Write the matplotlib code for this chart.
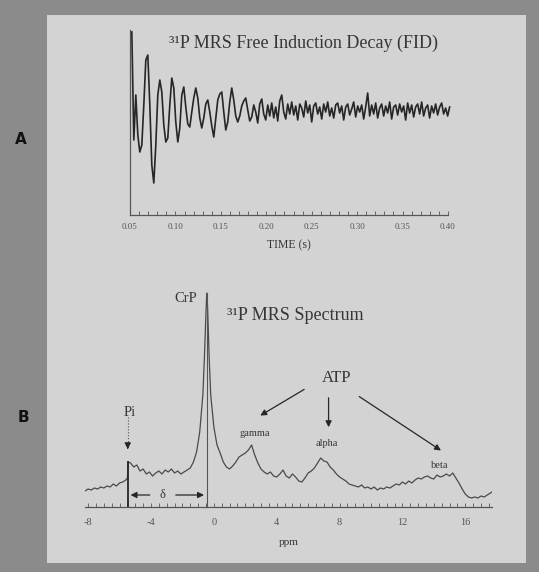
import numpy as np
import matplotlib as mpl
import matplotlib.pyplot as plt
from matplotlib.patches import Rectangle

mpl.use('Agg')
mpl.rcParams['font.family'] = ['Liberation Serif', 'DejaVu Serif']

# ---- A: FID, samples every 0.0022 s starting at 0.052 s ----
fid_t0 = 0.052
fid_dt = 0.0022
fid_amp = [
    78, -30, 15, -25, -42, -35, 5, 50, 55, 5, -55, -73, -35, 15, 30, 18, -15, -32, -28, 5,
    32, 22, -12, -32, -18, 15, 23, 3, -14, -17, -2, 12, 22, 12, -8, -18, -8, 6, 10, -2,
    -16, -27, -8, 10, 16, 18, -2, -20, -12, 8, 22, 10, -6, -12, -6, 4, 9, 12, 0, -11,
    -7, 5, -2, -13, 6, 11, -4, -10, 5, -6, 7, -8, 3, -11, 9, 15, -2, -9, 6, -4,
    8, -5, 4, -10, 6, 2, -7, 9, -3, 5, -12, 4, 7, -4, 3, -9, 6, -2, 8, -6,
    2, -8, 5, 7, -3, 4, -10, 3, 6, -5, 1, 8, -7, 4, -2, 5, -9, 3, 17, -6,
    5, -4, 7, -8, 2, 6, -6, 4, -3, 8, -9, 3, 5, -5, 6, -2, 4, -10, 7, -3,
    5, -7, 3, 6, -4, 8, -6, 2, 5, -8, 4, -3, 6, -5, 3, 7, -4, 2, -6, 3,
]
fid_ticks = [0.05, 0.10, 0.15, 0.20, 0.25, 0.30, 0.35, 0.40]
fid_ticklabels = ['0.05', '0.10', '0.15', '0.20', '0.25', '0.30', '0.35', '0.40']

# ---- B: spectrum ----
spec_ppm = [
    -8.2, -8.0, -7.8, -7.6, -7.4, -7.2, -7.0, -6.8, -6.6, -6.4, -6.2, -6.0, -5.8, -5.6, -5.5,
    -5.45, -5.3, -5.1, -4.9, -4.7, -4.5, -4.3, -4.1, -3.9, -3.7, -3.5, -3.3, -3.1, -2.9, -2.7,
    -2.5, -2.3, -2.1, -1.9, -1.7, -1.5, -1.3, -1.1, -0.9, -0.7, -0.6, -0.5, -0.45, -0.4, -0.3,
    -0.2, 0.0, 0.2, 0.4, 0.6, 0.8, 1.0, 1.2, 1.4, 1.6, 1.8, 2.0, 2.2, 2.4, 2.6,
    2.8, 3.0, 3.2, 3.4, 3.6, 3.8, 4.0, 4.2, 4.4, 4.6, 4.8, 5.0, 5.2, 5.4, 5.6,
    5.8, 6.0, 6.2, 6.4, 6.6, 6.8, 7.0, 7.2, 7.4, 7.6, 7.8, 8.0, 8.2, 8.4, 8.6,
    8.8, 9.0, 9.2, 9.4, 9.6, 9.8, 10.0, 10.2, 10.4, 10.6, 10.8, 11.0, 11.2, 11.4, 11.6,
    11.8, 12.0, 12.2, 12.4, 12.6, 12.8, 13.0, 13.2, 13.4, 13.6, 13.8, 14.0, 14.2, 14.4, 14.6,
    14.8, 15.0, 15.2, 15.4, 15.6, 15.8, 16.0, 16.2, 16.4, 16.6, 16.8, 17.0, 17.2, 17.4, 17.7,
]
spec_amp = [
    16, 18, 17, 19, 18, 20, 19, 21, 20, 23, 21, 24, 25, 27, 29,
    45, 44, 40, 42, 36, 38, 33, 35, 31, 34, 36, 33, 37, 35, 38,
    34, 36, 33, 35, 37, 39, 45, 55, 75, 112, 150, 195, 214, 200, 150,
    112, 80, 62, 54, 45, 40, 38, 41, 45, 50, 52, 54, 57, 62, 52,
    44, 38, 35, 33, 35, 31, 30, 33, 37, 31, 29, 33, 30, 26, 25,
    29, 34, 36, 39, 44, 49, 46, 45, 40, 37, 33, 30, 28, 26, 23,
    22, 21, 20, 22, 19, 20, 18, 20, 17, 19, 18, 20, 19, 21, 23,
    22, 25, 23, 26, 24, 27, 29, 28, 30, 31, 29, 28, 32, 30, 31,
    33, 31, 34, 29, 24, 18, 13, 10, 9, 10, 9, 11, 10, 12, 15,
]
spec_ticks = [-8, -4, 0, 4, 8, 12, 16]
spec_ticklabels = ['-8', '-4', '0', '4', '8', '12', '16']

pi_ppm, crp_ppm = -5.48, -0.45

W, H = 539, 572
fig = plt.figure(figsize=(W / 100, H / 100), dpi=100, facecolor='#8b8b8b')
fig.patches.append(Rectangle((47 / W, 1 - 563 / H), (526 - 47) / W, (563 - 15) / H,
                             transform=fig.transFigure, fc='#d3d3d3', ec='none', zorder=-5))

ink = '#262626'
txt = '#363636'

# ---------------- panel A ----------------
axA = fig.add_axes([130 / W, 1 - 215 / H, 318 / W, 185 / H])
axA.set_facecolor('none')
t = fid_t0 + fid_dt * np.arange(len(fid_amp))
axA.plot(t, fid_amp, color=ink, lw=1.2, clip_on=False)
axA.set_xlim(0.05, 0.40)
axA.set_ylim(-105, 80)
for s in ['top', 'right']:
    axA.spines[s].set_visible(False)
axA.spines['left'].set_color('#555555')
axA.spines['bottom'].set_color('#555555')
axA.spines['left'].set_linewidth(0.9)
axA.spines['bottom'].set_linewidth(0.9)
axA.set_yticks([])
axA.set_xticks(fid_ticks)
axA.set_xticklabels(fid_ticklabels, fontsize=6.5, color='#555555')
axA.set_xticks(np.arange(0.05, 0.401, 0.01), minor=True)
axA.tick_params(axis='x', which='both', direction='in', length=3, width=0.6,
                color='#555555', pad=6)
axA.set_xlabel('TIME (s)', fontsize=8.5, color=txt, labelpad=6)
axA.text(0.545, 0.93, '³¹P MRS Free Induction Decay (FID)', transform=axA.transAxes,
         ha='center', va='center', fontsize=13, color=txt)

# ---------------- panel B ----------------
axB = fig.add_axes([85 / W, 1 - 507 / H, 407 / W, 220 / H])
axB.set_facecolor('none')
axB.plot(spec_ppm, spec_amp, color='#4a4a4a', lw=0.9)
axB.set_xlim(-8.2, 17.7)
axB.set_ylim(0, 220)
for s in ['top', 'right', 'left']:
    axB.spines[s].set_visible(False)
axB.spines['bottom'].set_color('#555555')
axB.spines['bottom'].set_linewidth(0.9)
axB.set_yticks([])
axB.set_xticks(spec_ticks)
axB.set_xticklabels(spec_ticklabels, fontsize=7.5, color='#555555')
axB.set_xticks(np.arange(-8, 17.6, 0.5), minor=True)
axB.tick_params(axis='x', which='both', direction='in', length=3, width=0.6,
                color='#555555', pad=8)
axB.set_xlabel('ppm', fontsize=8, color=txt, labelpad=8)

# reference lines and delta
axB.plot([pi_ppm, pi_ppm], [0, 45], color=ink, lw=1.3)
axB.plot([crp_ppm, crp_ppm], [0, 214], color='#555555', lw=0.8)
axB.plot([pi_ppm, pi_ppm], [90, 60], color='#555555', lw=0.8, ls=':')
arrow = dict(arrowstyle='-|>', color=ink, lw=0.9, mutation_scale=9)
axB.annotate('', xy=(pi_ppm, 55), xytext=(pi_ppm, 63), arrowprops=arrow)
axB.annotate('', xy=(pi_ppm, 12), xytext=(-3.9, 12), arrowprops=arrow)
axB.annotate('', xy=(crp_ppm, 12), xytext=(-2.6, 12), arrowprops=arrow)
axB.text(-3.25, 12, 'δ', ha='center', va='center', fontsize=9, color=txt)

axB.text(pi_ppm + 0.1, 95, 'Pi', ha='center', va='center', fontsize=10.5, color=txt)
axB.text(-1.05, 209, 'CrP', ha='right', va='center', fontsize=10.5, color=txt)
axB.text(0.83, 192, '³¹P MRS Spectrum', ha='left', va='center', fontsize=13, color=txt)
axB.text(7.8, 129, 'ATP', ha='center', va='center', fontsize=12, color=txt)
axB.annotate('', xy=(2.8, 90), xytext=(5.9, 119), arrowprops=arrow)
axB.annotate('', xy=(7.3, 77), xytext=(7.3, 112), arrowprops=arrow)
axB.annotate('', xy=(14.6, 55), xytext=(9.1, 112), arrowprops=arrow)
axB.text(2.6, 74, 'gamma', ha='center', va='center', fontsize=7.5, color=txt)
axB.text(7.2, 64, 'alpha', ha='center', va='center', fontsize=7.5, color=txt)
axB.text(14.4, 42, 'beta', ha='center', va='center', fontsize=7.5, color=txt)

# panel letters
fig.text(21 / W, 1 - 139 / H, 'A', fontsize=11, fontweight='bold', family='DejaVu Sans',
         color='#111111', ha='center', va='center')
fig.text(23 / W, 1 - 418 / H, 'B', fontsize=11, fontweight='bold', family='DejaVu Sans',
         color='#111111', ha='center', va='center')

fig.savefig('out.png', dpi=100, facecolor=fig.get_facecolor())
